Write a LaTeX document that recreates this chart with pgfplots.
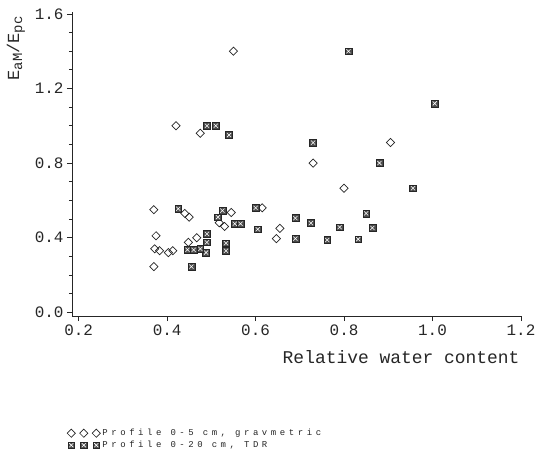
\documentclass[border=0pt]{standalone}
\usepackage{fontspec}
\usepackage{pgfplots}
\pgfplotsset{compat=1.18}
\usetikzlibrary{calc}
\newfontfamily\mono{Liberation Mono}
\definecolor{ink}{gray}{0.15}

\pgfdeclareplotmark{tdr}{%
  \pgfscope
  \pgfsetstrokecolor{ink}%
  \pgfsetfillcolor{black!70}%
  \pgfsetlinewidth{0.5pt}%
  \pgfpathrectangle{\pgfqpoint{-\pgfplotmarksize}{-\pgfplotmarksize}}{\pgfqpoint{2\pgfplotmarksize}{2\pgfplotmarksize}}%
  \pgfusepathqfillstroke
  \pgfsetstrokecolor{white}%
  \pgfsetlinewidth{0.55pt}%
  \pgfpathmoveto{\pgfqpoint{-0.6\pgfplotmarksize}{-0.6\pgfplotmarksize}}%
  \pgfpathlineto{\pgfqpoint{0.6\pgfplotmarksize}{0.6\pgfplotmarksize}}%
  \pgfpathmoveto{\pgfqpoint{-0.6\pgfplotmarksize}{0.6\pgfplotmarksize}}%
  \pgfpathlineto{\pgfqpoint{0.6\pgfplotmarksize}{-0.6\pgfplotmarksize}}%
  \pgfusepathqstroke
  \endpgfscope
}

\pgfplotstableread{
x y
0.55 1.40
0.42 1.00
0.475 0.96
0.905 0.91
0.73 0.80
0.80 0.665
0.37 0.55
0.44 0.53
0.45 0.51
0.375 0.41
0.372 0.34
0.383 0.33
0.403 0.32
0.413 0.33
0.37 0.245
0.448 0.375
0.467 0.40
0.518 0.48
0.545 0.535
0.53 0.46
0.615 0.56
0.655 0.45
0.647 0.395
}\grav

\pgfplotstableread{
x y
0.81 1.40
1.005 1.12
0.49 1.00
0.51 1.00
0.54 0.95
0.73 0.91
0.88 0.80
0.956 0.665
0.85 0.53
0.69 0.505
0.725 0.478
0.79 0.456
0.864 0.452
0.762 0.387
0.832 0.392
0.69 0.395
0.60 0.56
0.605 0.445
0.553 0.475
0.566 0.475
0.533 0.37
0.533 0.33
0.49 0.42
0.49 0.375
0.488 0.32
0.446 0.335
0.46 0.335
0.475 0.34
0.455 0.245
0.515 0.51
0.525 0.545
0.425 0.555
}\tdrdata

\begin{document}
\begin{tikzpicture}
\begin{axis}[
  name=ax,
  scale only axis,
  width=449bp, height=304bp,
  xmin=0.185, xmax=1.2, ymin=-0.02, ymax=1.61,
  axis x line*=bottom, axis y line*=left,
  axis line style={ink, line width=0.8bp, -},
  xtick={0.2,0.4,0.6,0.8,1.0,1.2},
  xticklabels={0.2,0.4,0.6,0.8,1.0,1.2},
  ytick={0,0.4,0.8,1.2,1.6},
  yticklabels={0.0,0.4,0.8,1.2,1.6},
  minor ytick={0.1,0.2,0.3,0.5,0.6,0.7,0.9,1.0,1.1,1.3,1.4,1.5},
  tick align=outside,
  major tick length=5bp, minor tick length=3bp,
  tick style={ink, line width=0.7bp},
  ticklabel style={font=\mono\fontsize{16}{16}\selectfont, text=ink},
  legend style={at={(axis description cs:0,0)}, anchor=north west,
    xshift=-8bp, yshift=-109bp, draw=none, fill=none,
    font=\mono\fontsize{9}{9}\selectfont\addfontfeature{LetterSpace=40},
    text=ink, row sep=0bp},
  legend cell align=left,
  legend image code/.code={\draw[only marks,#1] plot coordinates {(0bp,0bp) (12.5bp,0bp) (25bp,0bp)};},
]
\addplot[only marks, mark=square, mark size=2.9bp, draw=ink, line width=0.7bp, mark options={rotate=45, fill=white}] table {\grav};
\addlegendentry{Profile 0-5 cm, gravmetric}
\addplot[only marks, mark=tdr, mark size=3.4bp, draw=ink, line width=0.5bp] table {\tdrdata};
\addlegendentry{Profile 0-20 cm, TDR}
\end{axis}
\node[rotate=90, anchor=east, text=ink, font=\mono\fontsize{17}{17}\selectfont] at ($(ax.north west)+(-56bp,-1bp)$) {E\raisebox{-3bp}{\fontsize{14}{14}\selectfont aM}/E\raisebox{-3bp}{\fontsize{14}{14}\selectfont pc}};
\node[anchor=east, text=ink, font=\mono\fontsize{18}{18}\selectfont] at ($(ax.south east)+(2bp,-41bp)$) {Relative water content};
\pgfresetboundingbox
\path ($(ax.south west)+(-72bp,-142bp)$) rectangle ($(ax.north east)+(16bp,12bp)$);
\end{tikzpicture}
\end{document}
